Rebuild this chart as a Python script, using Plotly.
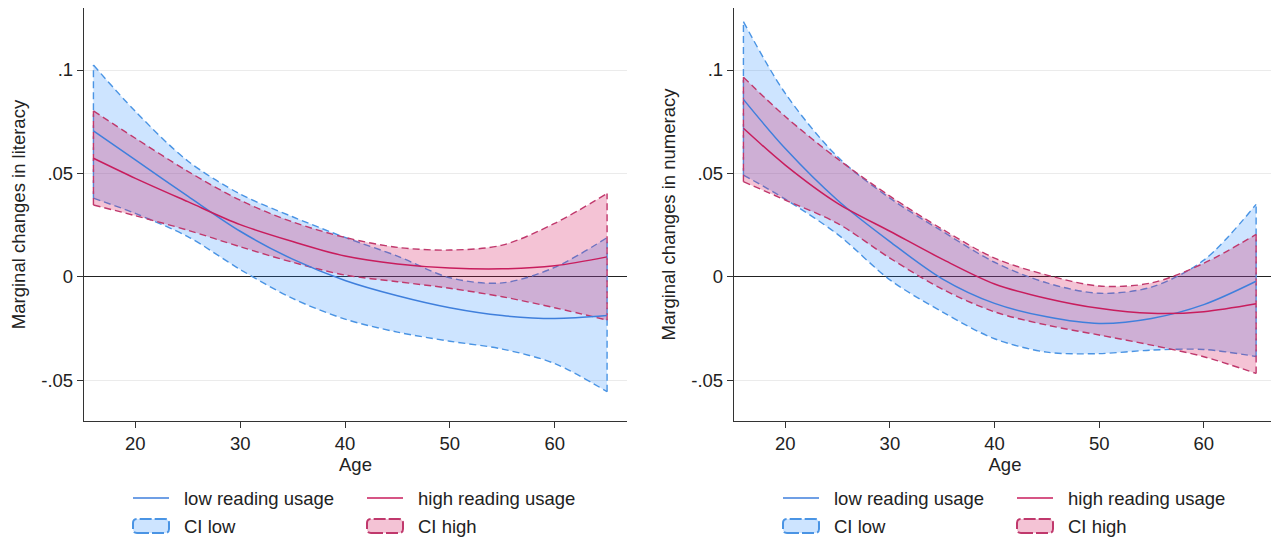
import plotly.graph_objects as go

# ---------------- data ----------------
ages = [16, 20, 25, 30, 35, 40, 45, 50, 55, 60, 65]

# Left panel: literacy
lit_low_mean = [0.0706, 0.0565, 0.0390, 0.0220, 0.0085, -0.0018, -0.0092, -0.0150, -0.0188, -0.0202, -0.0188]
lit_low_upper = [0.1024, 0.0800, 0.0560, 0.0400, 0.0290, 0.0190, 0.0100, -0.0005, -0.0030, 0.0045, 0.0189]
lit_low_lower = [0.0380, 0.0306, 0.0194, 0.0035, -0.0105, -0.0205, -0.0268, -0.0312, -0.0350, -0.0420, -0.0556]
lit_high_mean = [0.0573, 0.0476, 0.0363, 0.0252, 0.0170, 0.0100, 0.0062, 0.0042, 0.0038, 0.0053, 0.0096]
lit_high_upper = [0.0802, 0.0670, 0.0510, 0.0370, 0.0265, 0.0190, 0.0142, 0.0129, 0.0153, 0.0258, 0.0403]
lit_high_lower = [0.0347, 0.0295, 0.0225, 0.0145, 0.0070, 0.0008, -0.0024, -0.0056, -0.0097, -0.0150, -0.0210]

# Right panel: numeracy
num_low_mean = [0.0858, 0.0620, 0.0370, 0.0170, -0.0010, -0.0129, -0.0194, -0.0226, -0.0202, -0.0135, -0.0022]
num_low_upper = [0.1234, 0.0887, 0.0580, 0.0380, 0.0220, 0.0070, -0.0030, -0.0080, -0.0050, 0.0080, 0.0350]
num_low_lower = [0.0492, 0.0375, 0.0205, -0.0015, -0.0170, -0.0300, -0.0365, -0.0372, -0.0355, -0.0352, -0.0386]
num_high_mean = [0.0718, 0.0540, 0.0355, 0.0220, 0.0085, -0.0035, -0.0105, -0.0153, -0.0177, -0.0169, -0.0131]
num_high_upper = [0.0965, 0.0775, 0.0570, 0.0390, 0.0230, 0.0090, 0.0008, -0.0045, -0.0030, 0.0065, 0.0205]
num_high_lower = [0.0460, 0.0371, 0.0258, 0.0090, -0.0060, -0.0170, -0.0234, -0.0282, -0.0331, -0.0387, -0.0468]

x_tickvals = [20, 30, 40, 50, 60]
y_tickvals = [-0.05, 0, 0.05, 0.1]
y_ticktext = ["-.05", "0", ".05", ".1"]

legend_labels = ["low reading usage", "high reading usage", "CI low", "CI high"]
panel_titles = ["Marginal changes in literacy", "Marginal changes in numeracy"]

# ---------------- styles ----------------
FONT = "Liberation Sans, Arial, sans-serif"
FS = 18.5
TXT = "#222222"
BLUE_LINE = "#3f7fdc"
RED_LINE = "#c81d5d"
BLUE_DASH = "#4a94e4"
RED_DASH = "#c0386c"
BLUE_FILL = "rgba(26,133,255,0.22)"
RED_FILL = "rgba(212,17,89,0.25)"
DASH = "7px,4px"

# The page body has an 8px margin: the figure starts at (8, 8) in the window.
OFF = 8
W = 1279 - OFF
H = 540 - OFF


def px_x(x):  # window px -> paper fraction
    return (x - OFF) / W


def px_y(y):  # window px (from top) -> paper fraction (from bottom)
    return (H - (y - OFF)) / H


fig = go.Figure()


def add_band(xa, ya, lower, upper, dash_color, fill_color):
    common = dict(xaxis=xa, yaxis=ya, hoverinfo="skip", showlegend=False, mode="lines")
    fig.add_trace(go.Scatter(x=ages, y=lower,
                             line=dict(color=dash_color, width=1.4, dash=DASH, shape="spline", smoothing=0.9),
                             **common))
    fig.add_trace(go.Scatter(x=ages, y=upper, fill="tonexty", fillcolor=fill_color,
                             line=dict(color=dash_color, width=1.4, dash=DASH, shape="spline", smoothing=0.9),
                             **common))
    fig.add_trace(go.Scatter(x=[ages[0], ages[0], None, ages[-1], ages[-1]],
                             y=[lower[0], upper[0], None, lower[-1], upper[-1]],
                             line=dict(color=dash_color, width=1.4, dash=DASH), **common))


def add_line(xa, ya, y, color, name):
    fig.add_trace(go.Scatter(x=ages, y=y, mode="lines", name=name, xaxis=xa, yaxis=ya,
                             showlegend=False,
                             line=dict(color=color, width=1.5, shape="spline", smoothing=0.9)))


panels = [
    ("x", "y", lit_low_mean, lit_low_lower, lit_low_upper, lit_high_mean, lit_high_lower, lit_high_upper),
    ("x2", "y2", num_low_mean, num_low_lower, num_low_upper, num_high_mean, num_high_lower, num_high_upper),
]
for xa, ya, lm, ll, lu, hm, hl, hu in panels:
    add_band(xa, ya, ll, lu, BLUE_DASH, BLUE_FILL)
    add_band(xa, ya, hl, hu, RED_DASH, RED_FILL)
    add_line(xa, ya, lm, BLUE_LINE, legend_labels[0])
    add_line(xa, ya, hm, RED_LINE, legend_labels[1])

# ---------------- axes ----------------
x_domains = [[px_x(84), px_x(627)], [px_x(734), px_x(1276)]]
y_domain = [px_y(421), min(px_y(8), 1.0)]

layout = dict(
    width=W, height=H,
    margin=dict(l=0, r=0, t=0, b=0),
    paper_bgcolor="white", plot_bgcolor="white",
    font=dict(family=FONT, size=FS, color=TXT),
    showlegend=False,
)
for i, suffix in enumerate(["", "2"]):
    layout["xaxis" + suffix] = dict(
        domain=x_domains[i], range=[15.1, 66.9], anchor="y" + suffix,
        tickvals=x_tickvals, ticks="outside", ticklen=6, tickcolor="#333", tickwidth=1.2,
        showline=True, linecolor="#333", linewidth=1.3, showgrid=False, zeroline=False,
        tickfont=dict(size=FS, color=TXT),
        title=dict(text="Age", font=dict(size=FS, color=TXT), standoff=4),
    )
    layout["yaxis" + suffix] = dict(
        domain=y_domain, range=[-0.0698, 0.130], anchor="x" + suffix,
        tickvals=y_tickvals, ticktext=y_ticktext, ticks="outside", ticklen=6,
        tickcolor="#333", tickwidth=1.2,
        showline=True, linecolor="#333", linewidth=1.3,
        showgrid=True, gridcolor="#ebebeb", gridwidth=1,
        zeroline=True, zerolinecolor="#222", zerolinewidth=1.4,
        tickfont=dict(size=FS, color=TXT),
        title=dict(text=panel_titles[i], font=dict(size=FS, color=TXT), standoff=10),
    )
fig.update_layout(**layout)

# ---------------- manual legends (Stata-style, two per panel) ----------------
legend_rows = [498, 526]
legend_cols = [[133, 367], [783, 1017]]  # symbol left edges (window px)
sym_w = 36
text_gap = 13
line_colors = [BLUE_LINE, RED_LINE]
dash_colors = [BLUE_DASH, RED_DASH]
fill_colors = [BLUE_FILL, RED_FILL]


def rounded_box(xl, xr, yt, yb, r=4):
    x0, x1 = px_x(xl), px_x(xr)
    y0, y1 = px_y(yb), px_y(yt)
    rx, ry = r / W, r / H
    return (f"M{x0 + rx},{y0} L{x1 - rx},{y0} Q{x1},{y0} {x1},{y0 + ry} "
            f"L{x1},{y1 - ry} Q{x1},{y1} {x1 - rx},{y1} L{x0 + rx},{y1} "
            f"Q{x0},{y1} {x0},{y1 - ry} L{x0},{y0 + ry} Q{x0},{y0} {x0 + rx},{y0} Z")


shapes = []
annotations = []
for p in range(2):
    for k in range(2):
        x0 = legend_cols[p][k]
        yl = px_y(legend_rows[0])
        shapes.append(dict(type="line", xref="paper", yref="paper",
                           x0=px_x(x0), x1=px_x(x0 + sym_w), y0=yl, y1=yl,
                           line=dict(color=line_colors[k], width=1.5)))
        annotations.append(dict(xref="paper", yref="paper", x=px_x(x0 + sym_w + text_gap), y=yl,
                                xanchor="left", yanchor="middle", showarrow=False,
                                text=legend_labels[k], font=dict(size=FS, color=TXT)))
        yc = legend_rows[1]
        shapes.append(dict(type="path", xref="paper", yref="paper",
                           path=rounded_box(x0, x0 + sym_w, yc - 7, yc + 7),
                           fillcolor=fill_colors[k],
                           line=dict(color=dash_colors[k], width=2, dash="12px,3px")))
        annotations.append(dict(xref="paper", yref="paper", x=px_x(x0 + sym_w + text_gap),
                                y=px_y(yc), xanchor="left", yanchor="middle", showarrow=False,
                                text=legend_labels[2 + k], font=dict(size=FS, color=TXT)))

fig.update_layout(shapes=shapes, annotations=annotations)
fig.write_html("out.html")
